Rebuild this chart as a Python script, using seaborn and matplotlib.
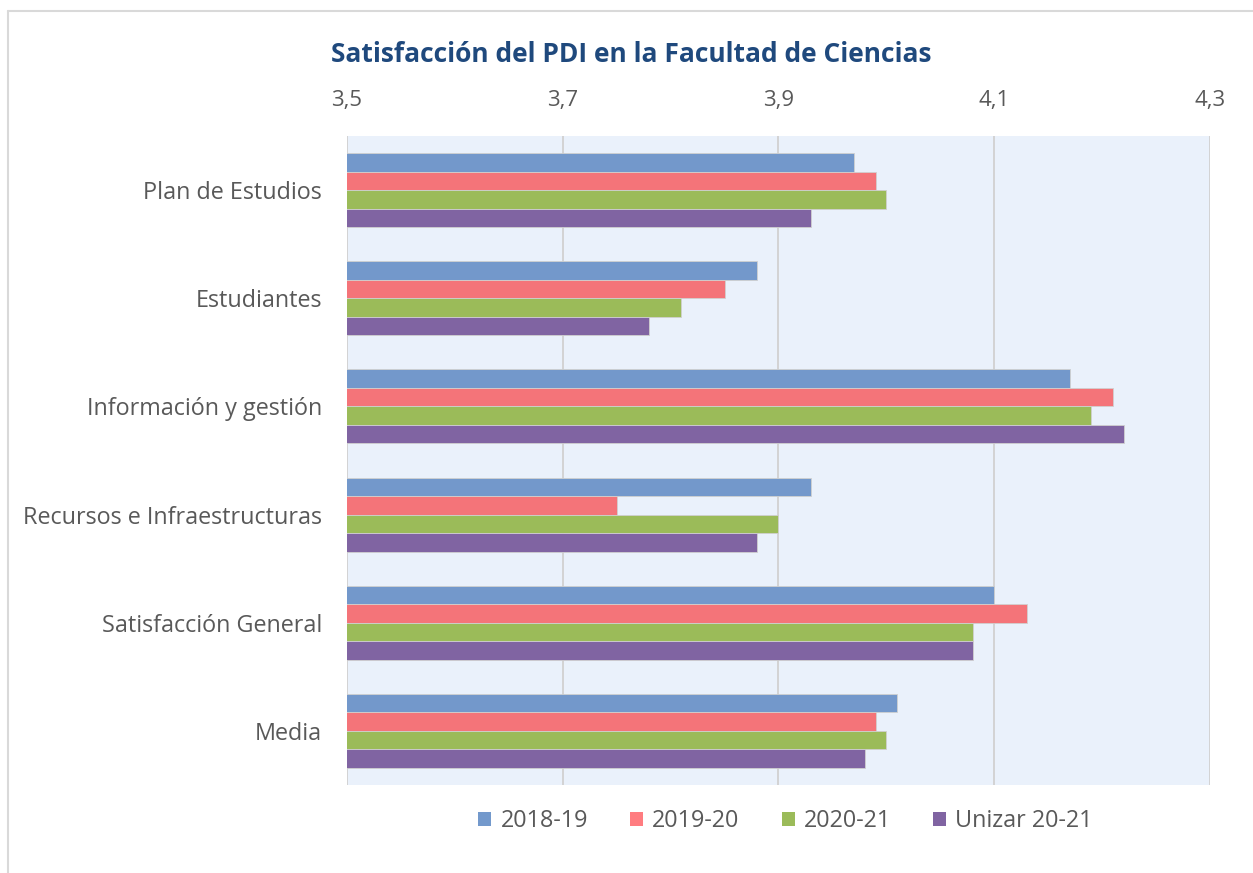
import matplotlib
matplotlib.use("Agg")
import matplotlib.pyplot as plt
import seaborn as sns
import pandas as pd
from matplotlib.lines import Line2D
from matplotlib.patches import Patch
from matplotlib.ticker import FuncFormatter

categories = ["Plan de Estudios", "Estudiantes", "Información y gestión",
              "Recursos e Infraestructuras", "Satisfacción General", "Media"]
series = ["2018-19", "2019-20", "2020-21", "Unizar 20-21"]
v_2018_19 = [3.97, 3.88, 4.17, 3.93, 4.10, 4.01]
v_2019_20 = [3.99, 3.85, 4.21, 3.75, 4.13, 3.99]
v_2020_21 = [4.00, 3.81, 4.19, 3.90, 4.08, 4.00]
v_unizar = [3.93, 3.78, 4.22, 3.88, 4.08, 3.98]
xticks = [3.5, 3.7, 3.9, 4.1, 4.3]

bar_colors = ["#7398CB", "#F47479", "#9BBB59", "#8064A2"]
legend_colors = ["#7399CC", "#FF7C80", "#9BBB59", "#8064A2"]

rows = []
for s, vals in zip(series, [v_2018_19, v_2019_20, v_2020_21, v_unizar]):
    for c, v in zip(categories, vals):
        rows.append({"cat": c, "serie": s, "valor": v})
df = pd.DataFrame(rows)

sns.set_theme(style="white")
plt.rcParams['font.family'] = ['Open Sans', 'DejaVu Sans']

fig = plt.figure(figsize=(12.53, 8.73), dpi=100)
ax = fig.add_axes([0.2769, 0.1008, 0.6888, 0.7434])
ax.set_facecolor("#EAF1FB")

sns.barplot(data=df, y="cat", x="valor", hue="serie", order=categories,
            hue_order=series, palette=bar_colors, orient="h", width=0.685,
            edgecolor="#D0D0D0", linewidth=0.6, ax=ax, legend=False,
            saturation=1, zorder=2)

ax.set_xlim(3.5, 4.3)
ax.set_ylim(5.5, -0.5)
ax.set_xticks(xticks)
ax.xaxis.set_major_formatter(FuncFormatter(lambda v, p: f"{v:.1f}".replace(".", ",")))
ax.xaxis.tick_top()
ax.tick_params(axis="x", length=0, pad=18, labelsize=16, colors="#595959")
ax.tick_params(axis="y", length=0, pad=18, labelsize=16.8, colors="#595959")
ax.set_xlabel("")
ax.set_ylabel("")
for x in xticks:
    ax.axvline(x, color="#D3D3D3", lw=1.4, zorder=1)
for sp in ax.spines.values():
    sp.set_visible(False)

fig.text(0.5036, 0.937, "Satisfacción del PDI en la Facultad de Ciencias",
         ha="center", va="center", fontsize=19, fontweight="bold", color="#1F497D")

handles = [Patch(facecolor=c, edgecolor="none") for c in legend_colors]
fig.legend(handles, series, loc="center", bbox_to_anchor=(0.627, 0.059), ncol=4,
           frameon=False, fontsize=16.8, handlelength=0.55, handleheight=0.55,
           handletextpad=0.4, columnspacing=1.8, labelcolor="#595959")

fig.add_artist(Line2D([0.0064, 0.0064], [0.0, 0.9874], transform=fig.transFigure,
                      color="#D9D9D9", lw=1.5))
fig.add_artist(Line2D([0.0064, 1.0], [0.9874, 0.9874], transform=fig.transFigure,
                      color="#D9D9D9", lw=1.5))

fig.savefig("out.png", dpi=100)
